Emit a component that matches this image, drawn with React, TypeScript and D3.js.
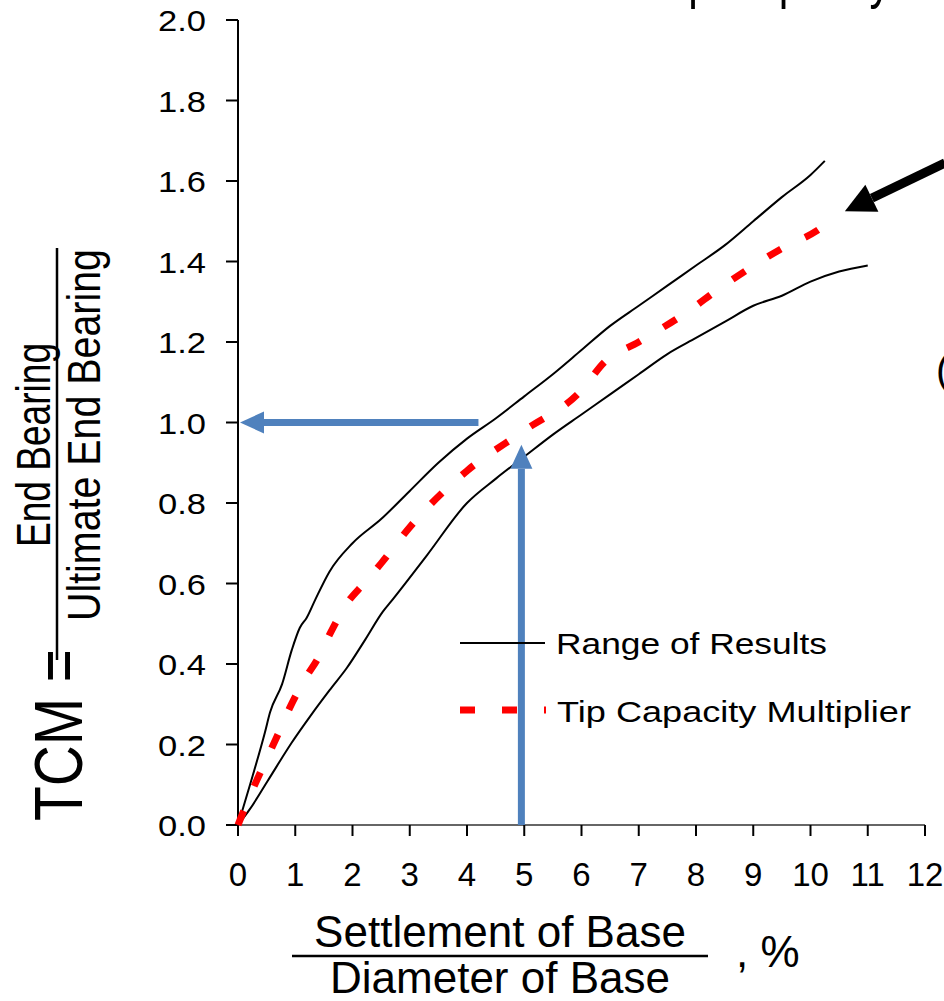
import React from 'react';
import * as d3 from 'd3';

// readings (x = settlement / diameter in %, y = TCM)
const xTicks = [0, 1, 2, 3, 4, 5, 6, 7, 8, 9, 10, 11, 12];
const yTicks = [0, 0.2, 0.4, 0.6, 0.8, 1.0, 1.2, 1.4, 1.6, 1.8, 2.0];

const upperX = [0, 0.21, 0.47, 0.56, 0.77, 0.94, 1.08, 1.2, 1.35, 1.6, 2, 2.5, 3, 3.5, 4, 4.5, 5, 5.5, 6, 6.5, 7, 7.5, 8, 8.5, 9, 9.5, 10, 10.25];
const upperY = [0, 0.1, 0.23, 0.28, 0.35, 0.435, 0.49, 0.515, 0.56, 0.63, 0.7, 0.76, 0.83, 0.9, 0.96, 1.01, 1.065, 1.12, 1.18, 1.24, 1.29, 1.34, 1.39, 1.44, 1.5, 1.56, 1.615, 1.65];

const lowerX = [0, 0.21, 0.52, 0.94, 1.26, 1.6, 1.9, 2.22, 2.53, 2.7, 3.3, 4, 4.5, 5, 5.5, 6, 6.5, 7, 7.5, 8, 8.5, 9, 9.5, 10, 10.5, 11];
const lowerY = [0, 0.04, 0.11, 0.205, 0.27, 0.335, 0.39, 0.46, 0.53, 0.56, 0.67, 0.8, 0.86, 0.915, 0.97, 1.02, 1.07, 1.12, 1.17, 1.21, 1.25, 1.29, 1.315, 1.35, 1.375, 1.39];

const tcmX = [0, 0.2, 0.47, 0.73, 0.9, 1.2, 1.38, 1.66, 1.9, 2.2, 2.5, 3, 4, 5, 6, 6.4, 7, 8, 8.28, 8.9, 9.47, 10.15, 10.25];
const tcmY = [0, 0.07, 0.155, 0.235, 0.29, 0.37, 0.41, 0.49, 0.55, 0.6, 0.65, 0.74, 0.88, 0.98, 1.08, 1.15, 1.2, 1.29, 1.32, 1.38, 1.43, 1.48, 1.49];

// blue reading arrows and the black call-out arrow, in data units
const hArrow = { from: [4.2, 1.0], to: [0, 1.0] };
const vArrow = { from: [4.95, 0], to: [4.95, 0.945] };
const callout = { from: [12.35, 1.645], to: [10.6, 1.525] };

const FONT = '"Liberation Sans", Arial, sans-serif';
const BLUE = '#4F81BD';

function zip(xs: number[], ys: number[]) {
  return xs.map((x, i) => [x, ys[i]] as [number, number]);
}

function Arrow({ x1, y1, x2, y2, color, width, head, headW }: any) {
  const ang = Math.atan2(y2 - y1, x2 - x1);
  const bx = x2 - Math.cos(ang) * head;
  const by = y2 - Math.sin(ang) * head;
  const nx = -Math.sin(ang) * headW;
  const ny = Math.cos(ang) * headW;
  return (
    <g>
      <line x1={x1} y1={y1} x2={bx} y2={by} stroke={color} strokeWidth={width} />
      <polygon points={`${x2},${y2} ${bx + nx},${by + ny} ${bx - nx},${by - ny}`} fill={color} />
    </g>
  );
}

export default function App() {
  const x = d3.scaleLinear().domain([0, 12]).range([238, 925]);
  const y = d3.scaleLinear().domain([0, 2]).range([825, 20]);

  const line = d3.line<[number, number]>()
    .x(d => x(d[0]))
    .y(d => y(d[1]))
    .curve(d3.curveMonotoneX);

  return (
    <svg width={944} height={1001} style={{ position: 'absolute', left: 0, top: 0, background: '#fff' }} fontFamily={FONT}>
      {/* cut-off title at the top: only descenders show */}
      <text x={654} y={-3} fontSize={60} textLength={237} lengthAdjust="spacingAndGlyphs">Tip Capacity</text>
      <text x={936} y={384} fontSize={40}>(</text>

      {/* y axis */}
      <line x1={x(0)} x2={x(0)} y1={y(2)} y2={y(0)} stroke="#000" strokeWidth={2} />
      {yTicks.map(t => (
        <g key={t}>
          <line x1={x(0) - 12} x2={x(0)} y1={y(t)} y2={y(t)} stroke="#000" strokeWidth={2} />
          <text x={206} y={y(t) + 11} fontSize={30} textAnchor="end" textLength={48} lengthAdjust="spacingAndGlyphs">{t.toFixed(1)}</text>
        </g>
      ))}

      {/* x axis */}
      <line x1={x(0)} x2={x(12)} y1={y(0)} y2={y(0)} stroke="#666" strokeWidth={2} />
      {xTicks.map(t => (
        <g key={t}>
          <line x1={x(t)} x2={x(t)} y1={y(0)} y2={y(0) + 11} stroke="#000" strokeWidth={2} />
          <text x={x(t)} y={886} fontSize={33} textAnchor="middle">{t}</text>
        </g>
      ))}

      {/* curves */}
      <path d={line(zip(upperX, upperY)) || ''} fill="none" stroke="#000" strokeWidth={2} />
      <path d={line(zip(lowerX, lowerY)) || ''} fill="none" stroke="#000" strokeWidth={2} />
      <path d={line(zip(tcmX, tcmY)) || ''} fill="none" stroke="#FF0000" strokeWidth={7} strokeDasharray="15 27" />

      {/* blue arrows */}
      <Arrow x1={x(hArrow.from[0])} y1={y(hArrow.from[1])} x2={x(hArrow.to[0]) + 2} y2={y(hArrow.to[1])} color={BLUE} width={7} head={24} headW={11} />
      <Arrow x1={x(vArrow.from[0])} y1={y(vArrow.from[1])} x2={x(vArrow.to[0])} y2={y(vArrow.to[1])} color={BLUE} width={7} head={24} headW={11} />

      {/* black call-out arrow */}
      <Arrow x1={x(callout.from[0])} y1={y(callout.from[1])} x2={x(callout.to[0])} y2={y(callout.to[1])} color="#000" width={9} head={30} headW={15} />

      {/* legend */}
      <line x1={460} x2={545} y1={643} y2={643} stroke="#000" strokeWidth={2} />
      <text x={556} y={654} fontSize={30} textLength={271} lengthAdjust="spacingAndGlyphs">Range of Results</text>
      <line x1={460} x2={546} y1={710} y2={710} stroke="#FF0000" strokeWidth={7} strokeDasharray="15 27" />
      <text x={557} y={722} fontSize={30} textLength={354} lengthAdjust="spacingAndGlyphs">Tip Capacity Multiplier</text>

      {/* x title */}
      <text x={500} y={947} fontSize={44} textAnchor="middle">Settlement of Base</text>
      <line x1={292} x2={708} y1={956} y2={956} stroke="#000" strokeWidth={2.5} />
      <text x={500} y={993} fontSize={44} textAnchor="middle">Diameter of Base</text>
      <text x={736} y={967} fontSize={44}>, %</text>

      {/* y title */}
      <text transform="translate(82,821) rotate(-90)" fontSize={68} textLength={172} lengthAdjust="spacingAndGlyphs">TCM =</text>
      <text transform="translate(50,445) rotate(-90)" fontSize={48} textAnchor="middle" textLength={204} lengthAdjust="spacingAndGlyphs">End Bearing</text>
      <line x1={57} x2={57} y1={248} y2={660} stroke="#000" strokeWidth={2.5} />
      <text transform="translate(100,435) rotate(-90)" fontSize={46} textAnchor="middle" textLength={372} lengthAdjust="spacingAndGlyphs">Ultimate End Bearing</text>
    </svg>
  );
}
